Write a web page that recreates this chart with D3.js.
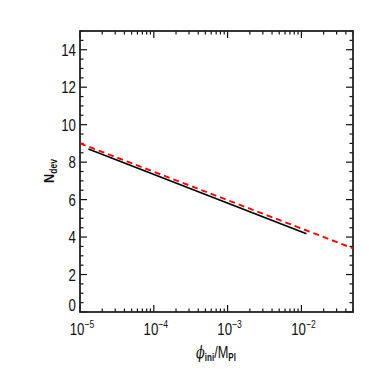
<!DOCTYPE html>
<html><head><meta charset="utf-8">
<script src="https://cdn.jsdelivr.net/npm/d3@7"></script>
<style>
body{margin:0;background:#fff;}
text{font-family:"Liberation Sans","Arial",sans-serif;}
</style></head>
<body><svg id="c" width="374" height="374"></svg>
<script>
// Data
const blackX = [1.3e-5, 1.17e-2];
const blackY = [8.7, 4.18];
const redX = [1e-5, 5e-2];
const redY = [9.0, 3.4];
const yTicks = [0,2,4,6,8,10,12,14];
const xDecades = [-5,-4,-3,-2];

const svg = d3.select("#c");
const L=80,R=353,T=31,B=312;
const x = d3.scaleLog().domain([1e-5,5e-2]).range([L,R]);
const y = d3.scaleLinear().domain([0,15]).range([B,T]);
const col="#111";
const SX=0.78;

// minor/major ticks
const yMinor = d3.range(0,15.01,0.5).filter(v=>v%2!==0);
const xMinor=[];
for(let d=-5;d<=-2;d++){for(let k=2;k<=9;k++){const v=k*Math.pow(10,d); if(v<=5e-2) xMinor.push(v);}}
const g=svg.append("g").attr("stroke",col).attr("stroke-width",1.2);
yTicks.forEach(v=>{
  g.append("line").attr("x1",L).attr("x2",L+7).attr("y1",y(v)).attr("y2",y(v));
  g.append("line").attr("x1",R).attr("x2",R-7).attr("y1",y(v)).attr("y2",y(v));
});
yMinor.forEach(v=>{
  g.append("line").attr("x1",L).attr("x2",L+3.5).attr("y1",y(v)).attr("y2",y(v));
  g.append("line").attr("x1",R).attr("x2",R-3.5).attr("y1",y(v)).attr("y2",y(v));
});
xDecades.forEach(d=>{const v=Math.pow(10,d);
  g.append("line").attr("x1",x(v)).attr("x2",x(v)).attr("y1",B).attr("y2",B-7);
  g.append("line").attr("x1",x(v)).attr("x2",x(v)).attr("y1",T).attr("y2",T+7);
});
xMinor.forEach(v=>{
  g.append("line").attr("x1",x(v)).attr("x2",x(v)).attr("y1",B).attr("y2",B-3.5);
  g.append("line").attr("x1",x(v)).attr("x2",x(v)).attr("y1",T).attr("y2",T+3.5);
});
svg.append("rect").attr("x",L).attr("y",T).attr("width",R-L).attr("height",B-T)
  .attr("fill","none").attr("stroke","#222").attr("stroke-width",1.8);

// y labels
yTicks.forEach(v=>{
  const by = v===0 ? y(v)-1.5 : y(v)+6;
  svg.append("text").attr("transform",`translate(${L-4},${by}) scale(${SX},1)`).attr("text-anchor","end")
    .attr("font-size",17).attr("fill",col).text(v);
});
// x labels
xDecades.forEach(d=>{
  const t=svg.append("text").attr("transform",`translate(${x(Math.pow(10,d))+2},335) scale(${SX},1)`).attr("text-anchor","middle")
    .attr("font-size",17).attr("fill",col);
  t.append("tspan").text("10");
  t.append("tspan").attr("dy",-7).attr("font-size",11).text("\u2212"+(-d));
});

// series
const line=d3.line().x(d=>x(d[0])).y(d=>y(d[1]));
svg.append("path").datum(blackX.map((v,i)=>[v,blackY[i]])).attr("d",line)
  .attr("fill","none").attr("stroke","#000").attr("stroke-width",1.7);
svg.append("path").datum(redX.map((v,i)=>[v,redY[i]])).attr("d",line)
  .attr("fill","none").attr("stroke","#f00").attr("stroke-width",1.9).attr("stroke-dasharray","6,4");

// axis titles
const yl=svg.append("text").attr("transform","translate(54,171) rotate(-90) scale(0.85,1)").attr("text-anchor","middle")
  .attr("font-size",15).attr("font-weight","bold").attr("fill",col);
yl.append("tspan").text("N");
yl.append("tspan").attr("dy",3).attr("font-size",10).text("dev");

const xl=svg.append("text").attr("transform","translate(216,358) scale(0.8,1)").attr("text-anchor","middle")
  .attr("font-size",16).attr("font-weight","bold").attr("fill",col);
xl.append("tspan").attr("font-style","italic").attr("font-family","DejaVu Serif, serif").attr("font-weight","normal").text("\u03d5");
xl.append("tspan").attr("dy",3).attr("font-size",10).text("ini");
xl.append("tspan").attr("dy",-3).attr("font-weight","normal").text("/M");
xl.append("tspan").attr("dy",3).attr("font-size",10).text("Pl");
</script></body></html>
